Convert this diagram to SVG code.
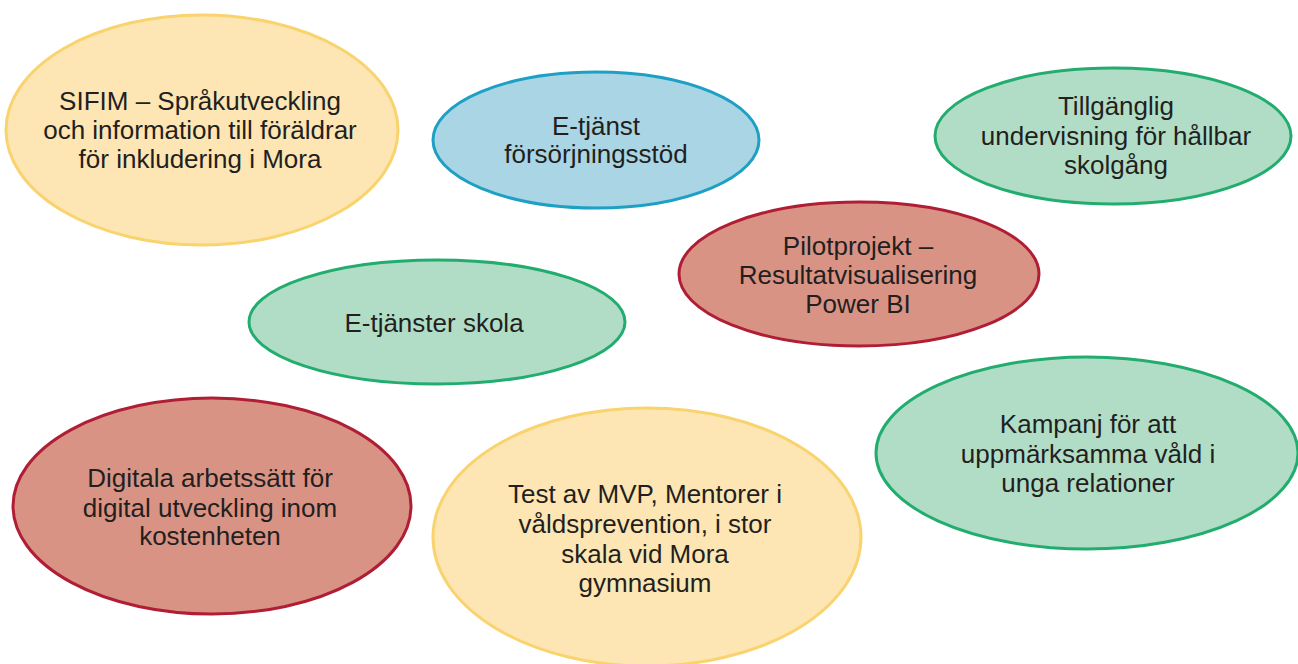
<svg xmlns="http://www.w3.org/2000/svg" width="1298" height="664" viewBox="0 0 1298 664">
<style>
.y{fill:#FDE6B3;stroke:#F9D36E;stroke-width:3}
.b{fill:#A9D5E4;stroke:#1EA0C4;stroke-width:3}
.g{fill:#B1DDC6;stroke:#22AD6F;stroke-width:3}
.r{fill:#D99385;stroke:#B01E35;stroke-width:3}
text{font-family:"Liberation Sans",Arial,sans-serif;font-size:26px;fill:#231F20;text-anchor:middle}
</style>
<rect width="1298" height="664" fill="#FFFFFF"/>
<g id="connectors"></g>
<g id="sifim">
<ellipse class="y" cx="202" cy="130" rx="196" ry="115"/>
<text x="200" y="110">SIFIM – Språkutveckling</text>
<text x="200" y="139">och information till föräldrar</text>
<text x="200" y="168">för inkludering i Mora</text>
</g>
<g id="etjanst">
<ellipse class="b" cx="596" cy="140" rx="163" ry="68"/>
<text x="596" y="135">E-tjänst</text>
<text x="596" y="163">försörjningsstöd</text>
</g>
<g id="tillganglig">
<ellipse class="g" cx="1113" cy="136" rx="178" ry="68"/>
<text x="1116" y="115">Tillgänglig</text>
<text x="1116" y="145">undervisning för hållbar</text>
<text x="1116" y="174">skolgång</text>
</g>
<g id="pilot">
<ellipse class="r" cx="859" cy="274" rx="180" ry="72"/>
<text x="858" y="255">Pilotprojekt –</text>
<text x="858" y="284">Resultatvisualisering</text>
<text x="858" y="313">Power BI</text>
</g>
<g id="eskola">
<ellipse class="g" cx="437" cy="322" rx="188" ry="62"/>
<text x="434" y="332">E-tjänster skola</text>
</g>
<g id="kampanj">
<ellipse class="g" cx="1087" cy="453" rx="211" ry="96"/>
<text x="1088" y="433">Kampanj för att</text>
<text x="1088" y="463">uppmärksamma våld i</text>
<text x="1088" y="492">unga relationer</text>
</g>
<g id="digitala">
<ellipse class="r" cx="212" cy="506" rx="199" ry="108"/>
<text x="210" y="487">Digitala arbetssätt för</text>
<text x="210" y="517">digital utveckling inom</text>
<text x="210" y="545">kostenheten</text>
</g>
<g id="test">
<ellipse class="y" cx="647" cy="537" rx="214" ry="129"/>
<text x="645" y="503">Test av MVP, Mentorer i</text>
<text x="645" y="533">våldsprevention, i stor</text>
<text x="645" y="563">skala vid Mora</text>
<text x="645" y="592">gymnasium</text>
</g>
</svg>
